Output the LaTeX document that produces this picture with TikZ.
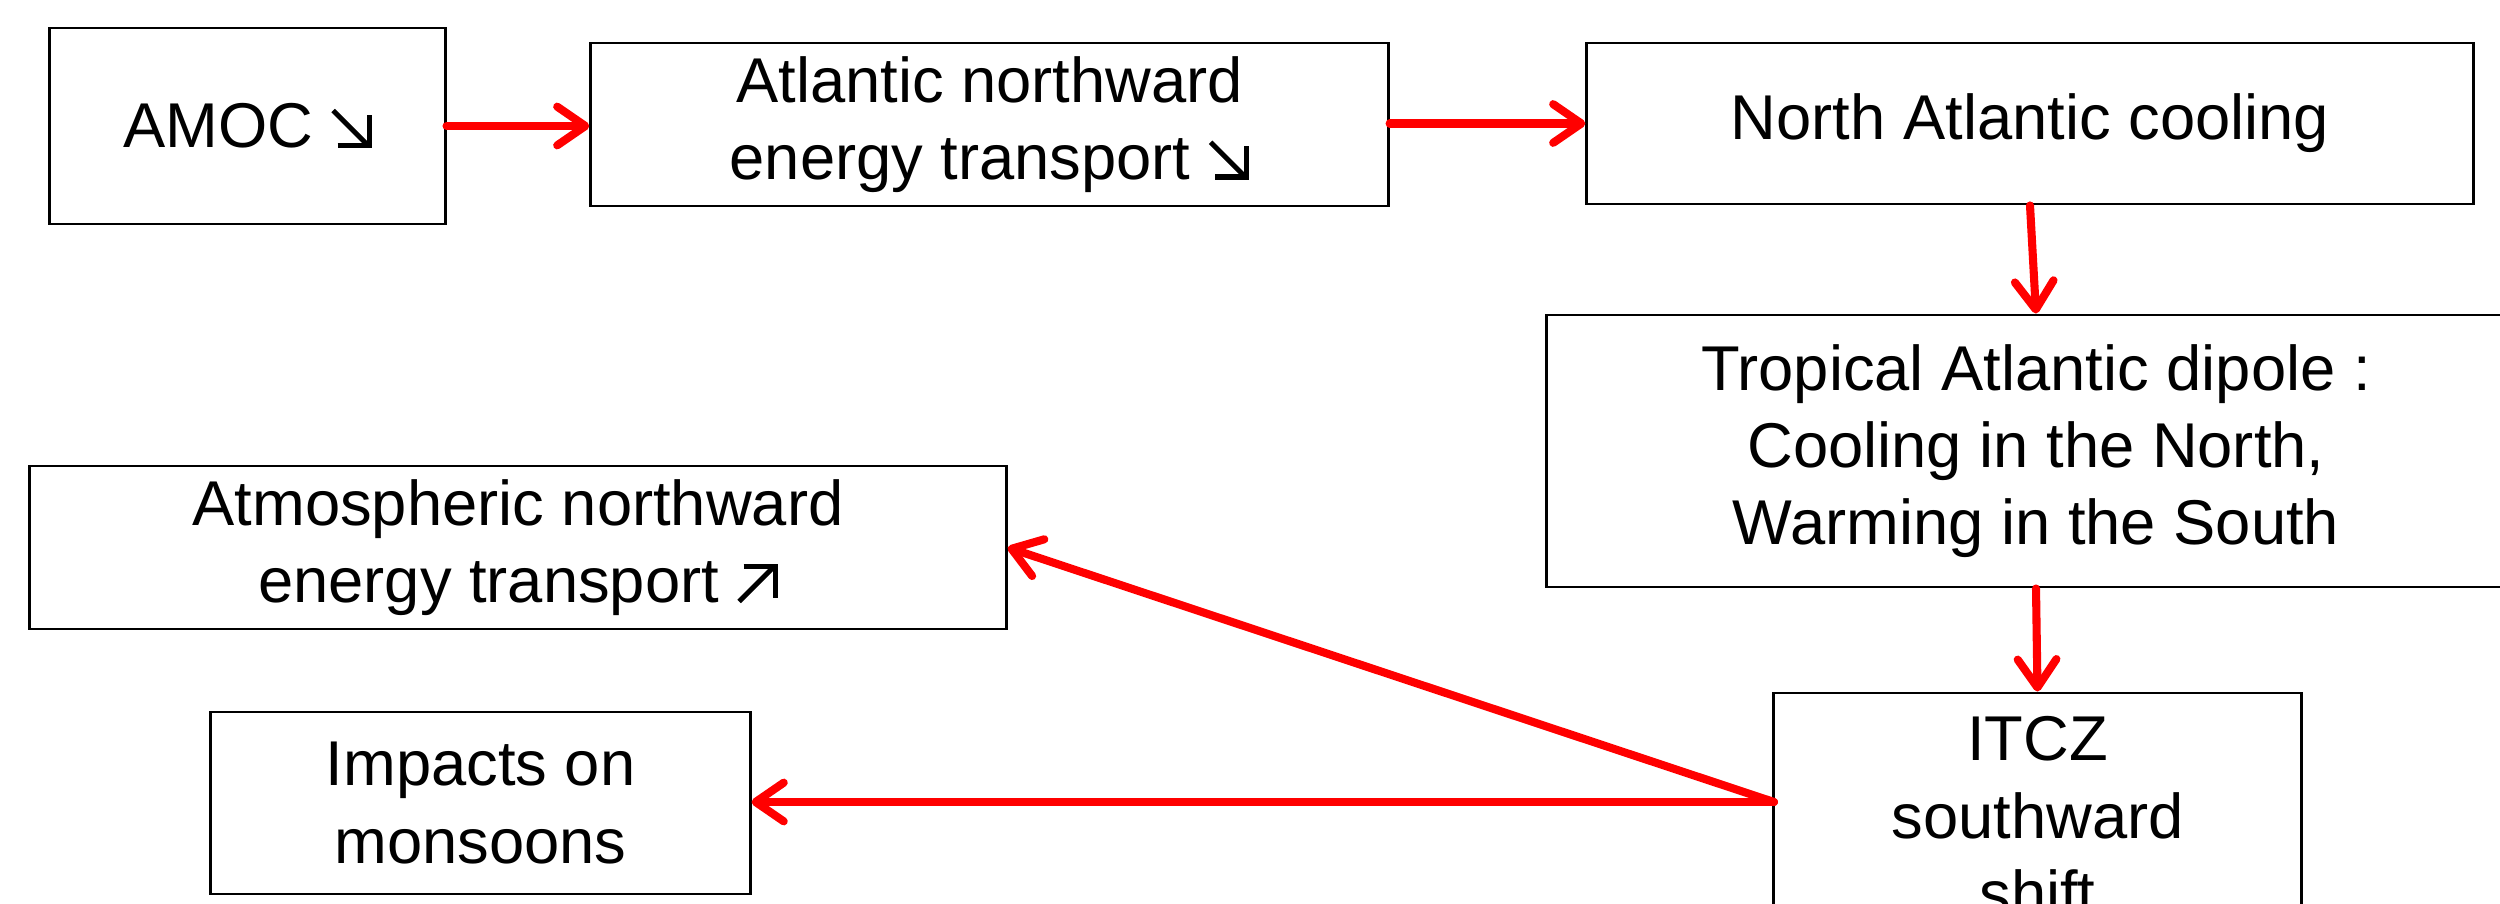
\documentclass[tikz,border=0pt]{standalone}
\usepackage{fontspec}
\setmainfont{Liberation Sans}
\usetikzlibrary{arrows.meta}
\newcommand\arrSE{\tikz[x=1pt,y=1pt,baseline=0pt]{%
  \draw[line width=1.4pt, line cap=butt] (0.3,10.6) -- (10.2,0.7);
  \draw[line width=1.5pt, line join=miter, line cap=butt] (1.6,0.75) -- (10.55,0.75) -- (10.55,9.4);}}
\newcommand\arrNE{\tikz[x=1pt,y=1pt,baseline=0pt]{%
  \draw[line width=1.4pt, line cap=butt] (0.3,0.3) -- (10.2,10.2);
  \draw[line width=1.5pt, line join=miter, line cap=butt] (1.6,10.35) -- (10.55,10.35) -- (10.55,1.4);}}
\begin{document}
\begin{tikzpicture}[x=0.01cm,y=-0.01cm,
  box/.style={draw=black, line width=0.8pt, align=center, inner sep=0pt,
    font=\fontsize{18}{22}\selectfont, text=black},
  conn/.style={draw={rgb,255:red,255;green,0;blue,0}, line width=2.3pt, line cap=round,
    -{Straight Barb[length=8pt,width=11pt,line cap=round,line join=round]}}]
\useasboundingbox (0,0) rectangle (2500,903);
\clip (0,0) rectangle (2500,903);
\node[box, minimum width=3.95cm, minimum height=1.96cm] (amoc) at (247.5,126) {AMOC \arrSE};
\node[box, minimum width=7.97cm, minimum height=1.63cm] (atl) at (989.5,124.5) {Atlantic northward\\energy transport \arrSE};
\node[box, minimum width=8.86cm, minimum height=1.61cm] (nac) at (2030,123.5) {North Atlantic cooling};
\node[box, minimum width=9.78cm, minimum height=2.72cm] (trop) at (2036,451) {Tropical Atlantic dipole :\\Cooling in the North,\\Warming in the South};
\node[box, minimum width=5.27cm, minimum height=2.47cm] (itcz) at (2037.5,816.5) {ITCZ\\southward\\shift};
\node[box, minimum width=9.76cm, minimum height=1.63cm] (atmos) at (518,547.5) {Atmospheric northward\\energy transport \arrNE};
\node[box, minimum width=5.39cm, minimum height=1.82cm] (imp) at (480.5,803) {Impacts on\\monsoons};
\coordinate (src) at (1774,802);
\draw[conn] (amoc.east) -- (amoc.east -| atl.west);
\draw[conn] (atl.east |- nac.west) -- (nac.west);
\draw[conn] (nac.south) -- (trop.north);
\draw[conn] (trop.south) -- (itcz.north);
\draw[conn] (src) -- (atmos.east);
\draw[conn] (src) -- (src -| imp.east);
\end{tikzpicture}
\end{document}
